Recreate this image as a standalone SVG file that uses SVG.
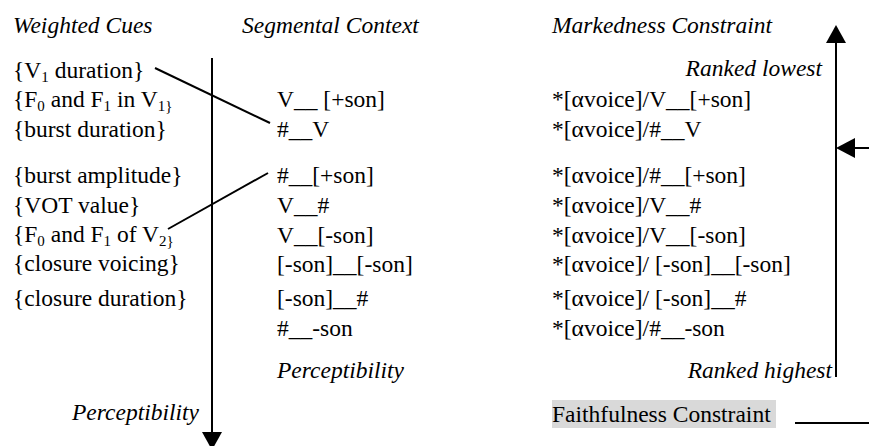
<svg xmlns="http://www.w3.org/2000/svg" width="869" height="446" viewBox="0 0 869 446">
<style>
text{font-family:'Liberation Serif','Times New Roman',Tinos,'DejaVu Serif',serif;font-size:23.5px;fill:#000}
.it{font-style:italic}
.sub{font-size:15px}
.ln{stroke:#000;stroke-width:2;fill:none}
.ah{fill:#000;stroke:none}
</style>
<rect width="869" height="446" fill="#fff"/>
<g id="col-cues" font-family="Liberation Serif, serif">
<text class="it" x="13" y="33">Weighted Cues</text>
<text x="13" y="78">{V<tspan class="sub" dy="4">1</tspan><tspan dy="-4"> duration}</tspan></text>
<text x="13" y="107">{F<tspan class="sub" dy="4">0</tspan><tspan dy="-4"> and F</tspan><tspan class="sub" dy="4">1</tspan><tspan dy="-4"> in V</tspan><tspan class="sub" dy="4">1}</tspan></text>
<text x="13" y="137">{burst duration}</text>
<text x="13" y="183">{burst amplitude}</text>
<text x="13" y="213">{VOT value}</text>
<text x="13" y="242">{F<tspan class="sub" dy="4">0</tspan><tspan dy="-4"> and F</tspan><tspan class="sub" dy="4">1</tspan><tspan dy="-4"> of V</tspan><tspan class="sub" dy="4">2}</tspan></text>
<text x="13" y="271">{closure voicing}</text>
<text x="13" y="306">{closure duration}</text>
<text class="it" x="72" y="420">Perceptibility</text>
</g>
<g id="col-context">
<text class="it" x="242" y="33">Segmental Context</text>
<text x="277" y="107">V__ [+son]</text>
<text x="277" y="137">#__V</text>
<text x="277" y="183">#__[+son]</text>
<text x="277" y="213">V__#</text>
<text x="277" y="243">V__[-son]</text>
<text x="277" y="272">[-son]__[-son]</text>
<text x="277" y="306">[-son]__#</text>
<text x="277" y="336">#__-son</text>
<text class="it" x="277" y="378">Perceptibility</text>
</g>
<g id="col-markedness">
<text class="it" x="552" y="33">Markedness Constraint</text>
<text class="it" x="822" y="76" text-anchor="end">Ranked lowest</text>
<text x="552" y="107">*[αvoice]/V__[+son]</text>
<text x="552" y="137">*[αvoice]/#__V</text>
<text x="552" y="183">*[αvoice]/#__[+son]</text>
<text x="552" y="213">*[αvoice]/V__#</text>
<text x="552" y="243">*[αvoice]/V__[-son]</text>
<text x="552" y="272">*[αvoice]/ [-son]__[-son]</text>
<text x="552" y="306">*[αvoice]/ [-son]__#</text>
<text x="552" y="336">*[αvoice]/#__-son</text>
<text class="it" x="832" y="378" text-anchor="end">Ranked highest</text>
</g>
<g id="faithfulness">
<rect x="552" y="400" width="224" height="28" fill="#d9d9d9"/>
<text x="552" y="422">Faithfulness Constraint</text>
</g>
<g id="connectors">
<line class="ln" x1="212" y1="58" x2="212" y2="434"/>
<polygon class="ah" points="202,432 222,432 212,450"/>
<line class="ln" x1="836" y1="40" x2="836" y2="377"/>
<polygon class="ah" points="826,43 846,43 836,25"/>
<line class="ln" x1="852" y1="148" x2="869" y2="148"/>
<polygon class="ah" points="836,148 855,138 855,158"/>
<line class="ln" x1="155" y1="68" x2="270" y2="123"/>
<line class="ln" x1="168" y1="229" x2="268" y2="173"/>
<line class="ln" x1="795" y1="423" x2="869" y2="423"/>
</g>
</svg>
